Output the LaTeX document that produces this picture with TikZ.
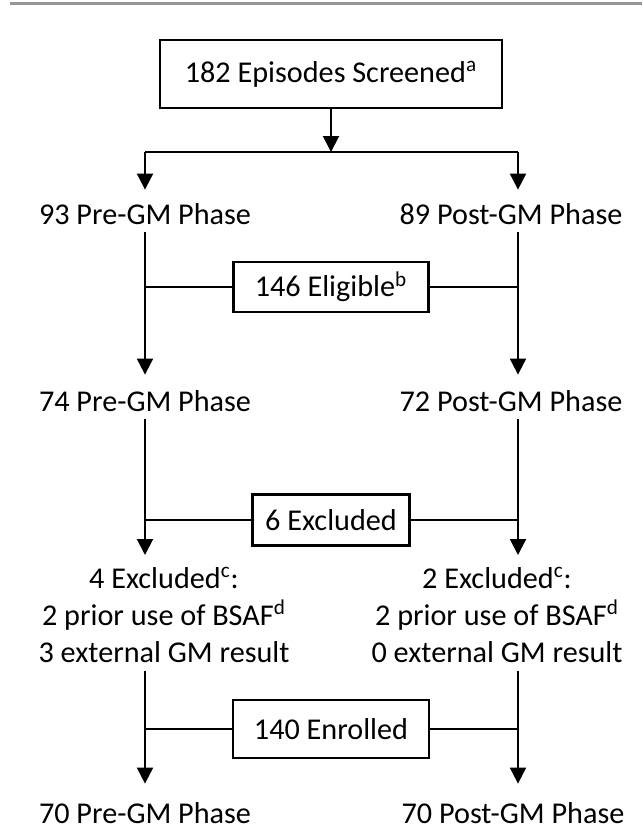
\documentclass[tikz,border=0pt]{standalone}
\usepackage{fontspec}
\setmainfont{Carlito}
\usetikzlibrary{arrows.meta}
\definecolor{rulegrey}{RGB}{150,150,150}
\begin{document}
\begin{tikzpicture}[x=0.5pt,y=-0.5pt,
  txt/.style={font=\fontsize{15.1}{18.5}\selectfont},
  box/.style={txt,draw,line width=1.4pt,inner sep=0pt},
  lbl/.style={txt,inner sep=0pt,anchor=base,text height=11.5pt,text depth=3pt},
  multi/.style={txt,inner sep=0pt,anchor=north,align=center},
  conn/.style={line width=1pt},
  arr/.style={conn,-{Triangle[width=8pt,length=8pt]}}]
\useasboundingbox (0,0) rectangle (642,829);
\draw[rulegrey,line width=1.5pt] (10,4) -- (642,4);
% column lines
\coordinate (L) at (145,0);
\coordinate (R) at (518,0);
% top
\node[box,minimum width=171pt,minimum height=34pt] (scr) at (331,74) {182 Episodes Screened\textsuperscript{a}};
\node[lbl] (pre1) at (145,224) {93 Pre-GM Phase};
\node[lbl] (post1) at (511,224) {89 Post-GM Phase};
\coordinate (j1) at (331,152);
\coordinate (jl) at (L |- j1);
\coordinate (jr) at (R |- j1);
\draw[arr] (scr.south) -- (j1);
\draw[conn] (jl) -- (jr);
\draw[arr,shorten >=5.5pt] (jl) -- (pre1.north -| L);
\draw[arr,shorten >=5.5pt] (jr) -- (post1.north -| R);
% eligible
\node[box,minimum width=97.5pt,minimum height=25pt] (eli) at (331,287) {146 Eligible\textsuperscript{b}};
\node[lbl] (pre2) at (145,411) {74 Pre-GM Phase};
\node[lbl] (post2) at (511,411) {72 Post-GM Phase};
\draw[arr,shorten <=1pt,shorten >=6.5pt] (pre1.south -| L) -- (pre2.north -| L);
\draw[arr,shorten <=1pt,shorten >=6.5pt] (post1.south -| R) -- (post2.north -| R);
\draw[conn] (eli.west) -- (eli.west -| L);
\draw[conn] (eli.east) -- (eli.east -| R);
% excluded
\node[box,minimum width=78.5pt,minimum height=25.5pt] (exc) at (331,520) {6 Excluded};
\node[multi] (exl) at (164,567) {4 Excluded\textsuperscript{c}:\\2 prior use of BSAF\textsuperscript{d}\\3 external GM result};
\node[multi] (exr) at (497,567) {2 Excluded\textsuperscript{c}:\\2 prior use of BSAF\textsuperscript{d}\\0 external GM result};
\draw[arr,shorten <=1pt,shorten >=6pt] (pre2.south -| L) -- (exl.north -| L);
\draw[arr,shorten <=1pt,shorten >=6pt] (post2.south -| R) -- (exr.north -| R);
\draw[conn] (exc.west) -- (exc.west -| L);
\draw[conn] (exc.east) -- (exc.east -| R);
% enrolled
\node[box,minimum width=98pt,minimum height=29pt] (enr) at (331,729) {140 Enrolled};
\node[lbl] (pre3) at (145,823) {70 Pre-GM Phase};
\node[lbl] (post3) at (513,823) {70 Post-GM Phase};
\draw[arr,shorten <=4pt,shorten >=8pt] (exl.south -| L) -- (pre3.north -| L);
\draw[arr,shorten <=4pt,shorten >=8pt] (exr.south -| R) -- (post3.north -| R);
\draw[conn] (enr.west) -- (enr.west -| L);
\draw[conn] (enr.east) -- (enr.east -| R);
\end{tikzpicture}
\end{document}
